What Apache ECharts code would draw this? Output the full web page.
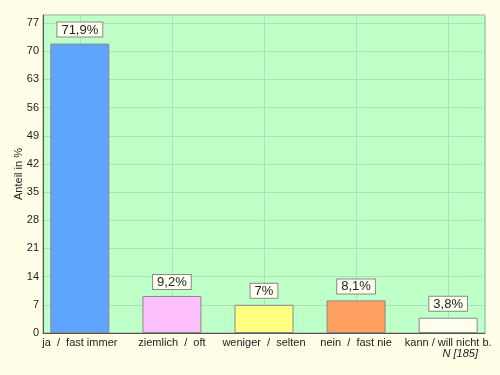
<!DOCTYPE html>
<html><head><meta charset="utf-8">
<script src="https://cdn.jsdelivr.net/npm/echarts@6/dist/echarts.min.js"></script>
<style>html,body{margin:0;padding:0;background:#FFFFE8;}#c{width:500px;height:375px;}</style>
</head><body><div id="c"></div>
<script>
const categories = ['ja  /  fast immer', 'ziemlich  /  oft', 'weniger  /  selten', 'nein  /  fast nie', 'kann / will nicht b.'];
const values = [71.9, 9.2, 7, 8.1, 3.8];
const valueLabels = ['71,9%', '9,2%', '7%', '8,1%', '3,8%'];
const barColors = ['#5FA4FF', '#FFC0FF', '#FFFF80', '#FFA060', '#FFFFF0'];
const yTicks = {min: 0, max: 79, interval: 7};
const yTitle = 'Anteil in %';
const note = 'N [185]';

const chart = echarts.init(document.getElementById('c'), null, {renderer: 'canvas'});
const font = 'Liberation Sans, Arial, sans-serif';
chart.setOption({
  backgroundColor: '#FFFFE8',
  animation: false,
  grid: {left: 43, right: 15, top: 15, bottom: 42, containLabel: false, outerBoundsMode: 'none',
         show: true, backgroundColor: '#BFFFC8', borderColor: '#999', borderWidth: 1},
  xAxis: {
    type: 'value', min: -0.4, max: 4.4,
    axisLine: {show: true, onZero: false, lineStyle: {color: '#555'}},
    axisTick: {show: false},
    splitLine: {show: true, lineStyle: {color: '#AAE2B2', width: 1}},
    axisLabel: {
      showMinLabel: false, showMaxLabel: false, color: '#222', fontFamily: font, fontSize: 11, margin: 4,
      formatter: v => Number.isInteger(v) && v >= 0 && v < categories.length ? categories[v] : ''
    }
  },
  yAxis: {
    type: 'value', min: yTicks.min, max: yTicks.max, interval: yTicks.interval,
    name: yTitle, nameLocation: 'middle', nameGap: 19, nameRotate: 90, nameMoveOverlap: false,
    nameTextStyle: {color: '#222', fontFamily: font, fontSize: 11},
    axisLine: {show: true, onZero: false, lineStyle: {color: '#555'}},
    axisTick: {show: false},
    splitLine: {show: true, lineStyle: {color: '#AAE2B2', width: 1}},
    axisLabel: {showMaxLabel: false, color: '#222', fontFamily: font, fontSize: 11, margin: 4}
  },
  series: [{
    type: 'bar',
    barWidth: 59,
    data: values.map((v, i) => ({value: [i, v], itemStyle: {color: barColors[i]}})),
    itemStyle: {borderColor: '#888', borderWidth: 1},
    label: {
      show: true, position: 'top', distance: 7,
      formatter: p => valueLabels[p.dataIndex],
      color: '#222', fontFamily: font, fontSize: 13,
      backgroundColor: '#FFFFF0', borderColor: '#888', borderWidth: 1, padding: [1, 4, 0, 4]
    }
  }],
  graphic: [{
    type: 'text', right: 22, top: 348,
    style: {text: note, font: 'italic 11px ' + font, fill: '#222'}
  }]
});
</script></body></html>
